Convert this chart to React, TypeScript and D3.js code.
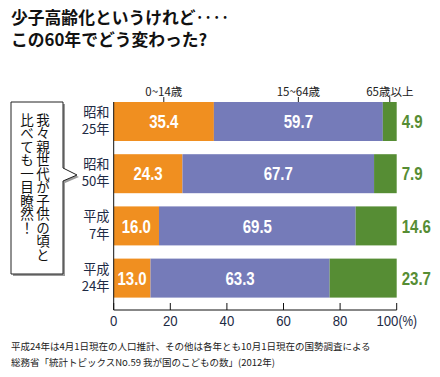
import React from "react";
import * as d3 from "d3";

const categories = [["昭和", "25年"], ["昭和", "50年"], ["平成", "7年"], ["平成", "24年"]];
const seriesNames = ["0~14歳", "15~64歳", "65歳以上"];
const young = [35.4, 24.3, 16.0, 13.0];
const working = [59.7, 67.7, 69.5, 63.3];
const elderly = [4.9, 7.9, 14.6, 23.7];
const xTicks = [0, 20, 40, 60, 80, 100];
const colors = ["#F08F20", "#757BB9", "#568D34"];

const JP = "'Noto Sans CJK JP', sans-serif";
const NUM = "'Liberation Sans', Arial, sans-serif";

function CText(props: { x: number; y: number; sx: number; anchor?: string; children: any; [k: string]: any }) {
  const { x, y, sx, anchor, children, ...rest } = props;
  return (
    <text transform={`translate(${x},${y}) scale(${sx},1)`} textAnchor={anchor || "start"} {...rest}>
      {children}
    </text>
  );
}

export default function App() {
  const W = 440, H = 377;
  const x = d3.scaleLinear().domain([0, 100]).range([113.7, 396.7]);
  const y = d3.scaleBand<number>().domain([0, 1, 2, 3]).range([102, 297.6]).paddingInner(0.253).paddingOuter(0);
  const stack = categories.map((c, i) => {
    const vals = [young[i], working[i], elderly[i]];
    let acc = 0;
    return vals.map((v, k) => {
      const s = acc;
      acc += v;
      const e = k === 2 ? 100 : acc;
      return { s, e, v, k };
    });
  });
  const axisY = 310;
  const bw = y.bandwidth();
  return (
    <svg width={W} height={H} style={{ position: "absolute", left: 0, top: 0, background: "#fff" }}>
      <g fontFamily={JP} fontWeight="bold" fontSize={16.8} fill="#111">
        <text x={11} y={24}>少子高齢化というけれど‥‥</text>
        <text x={11} y={45.5}>この60年でどう変わった?</text>
      </g>
      {/* series headers */}
      {stack[0].map((seg, k) => {
        const cx = x((seg.s + seg.e) / 2);
        return (
          <g key={k}>
            <text x={cx} y={96} textAnchor="middle" fontFamily={JP} fontSize={11.5} fill="#222">{seriesNames[k]}</text>
            <line x1={cx} x2={cx} y1={97} y2={102} stroke="#222" strokeWidth={1} />
          </g>
        );
      })}
      {/* bars */}
      {stack.map((row, i) => {
        const cy = y(i)! + bw / 2;
        return (
          <g key={i}>
            {row.map((seg) => (
              <rect key={seg.k} x={x(seg.s)} y={y(i)} width={x(seg.e) - x(seg.s)} height={bw} fill={colors[seg.k]} />
            ))}
            {row.slice(0, 2).map((seg) => (
              <CText key={"t" + seg.k} x={x((seg.s + seg.e) / 2)} y={cy + 6.8} sx={0.86} anchor="middle"
                fontFamily={NUM} fontWeight="bold" fontSize={17.5} fill="#fff">{seg.v.toFixed(1)}</CText>
            ))}
            <CText x={x(100) + 5} y={cy + 6.8} sx={0.86} fontFamily={NUM} fontWeight="bold" fontSize={17.5} fill="#568D34">
              {row[2].v.toFixed(1)}
            </CText>
            <g fontFamily={JP} fontSize={13.2} fill="#1d2a44" textAnchor="end">
              <text x={109.5} y={cy - 4.5}>{categories[i][0]}</text>
              <text x={109.5} y={cy + 12.8}>{categories[i][1]}</text>
            </g>
          </g>
        );
      })}
      {/* axes */}
      <line x1={x(0)} x2={x(0)} y1={102} y2={axisY} stroke="#111" strokeWidth={1} />
      <line x1={x(0)} x2={x(100)} y1={axisY} y2={axisY} stroke="#111" strokeWidth={1} />
      {xTicks.map((t) => (
        <g key={t}>
          <line x1={x(t)} x2={x(t)} y1={axisY - 7} y2={axisY} stroke="#111" strokeWidth={1} />
          <CText x={x(t)} y={326} sx={0.85} anchor="middle" fontFamily={NUM} fontSize={15.5} fill="#1d2a44">
            {t}
            {t === 100 ? <tspan fontSize={14}>(%)</tspan> : null}
          </CText>
        </g>
      ))}
      {/* callout */}
      <path d="M13,104 H65 V170 L79,177 L65,183 V276 H13 Z" fill="#9a9a9a" />
      <path d="M11,102 H63 V168 L77,175 L63,181 V274 H11 Z" fill="#fff" stroke="#222" strokeWidth={1} />
      <g fontFamily={JP} fontSize={13.5} fill="#111">
        <text x={43} y={113} style={{ writingMode: "vertical-rl" } as any}>我々親世代が子供の頃と</text>
        <text x={27} y={113} style={{ writingMode: "vertical-rl" } as any}>比べても一目瞭然！</text>
      </g>
      {/* footnote */}
      <g fontFamily={JP} fontSize={9.5} fill="#222">
        <text x={11} y={350}>平成24年は4月1日現在の人口推計、その他は各年とも10月1日現在の国勢調査による</text>
        <text x={11} y={366}>総務省「統計トピックスNo.59  我が国のこどもの数」(2012年)</text>
      </g>
    </svg>
  );
}
